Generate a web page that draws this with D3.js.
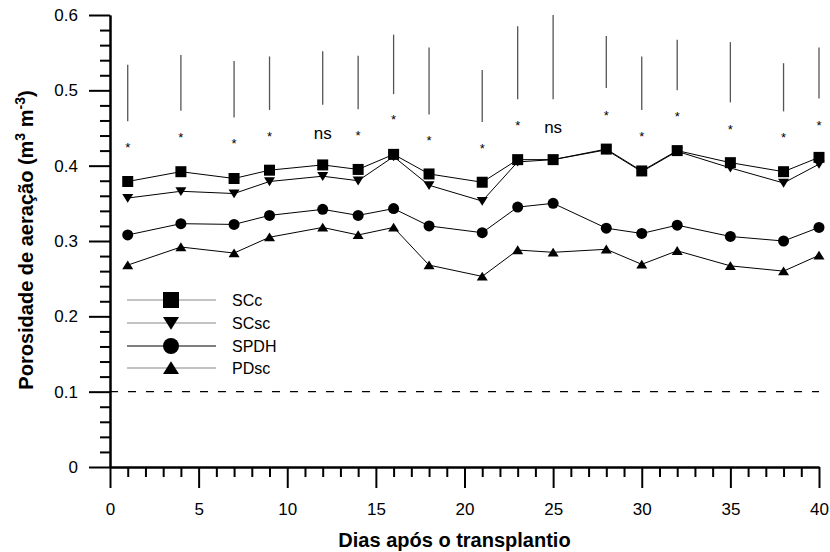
<!DOCTYPE html>
<html>
<head>
<meta charset="utf-8">
<script src="https://cdn.jsdelivr.net/npm/d3@7"></script>
<style>
  body { margin: 0; background: #fff; }
  svg { display: block; font-family: "Liberation Sans", Arial, sans-serif; }
</style>
</head>
<body>
<svg width="830" height="552"></svg>
<script>
const svgWidth = 830;
const svgHeight = 552;

const margin = { top: 15, left: 110, bottom: 85, right: 11 };
const width = svgWidth - (margin.left + margin.right);
const height = svgHeight - (margin.top + margin.bottom);

// days after transplanting
const dias = [1, 4, 7, 9, 12, 14, 16, 18, 21, 23, 25, 28, 30, 32, 35, 38, 40];

const sccValues  = [0.379, 0.392, 0.383, 0.394, 0.401, 0.395, 0.415, 0.389, 0.378, 0.408, 0.408, 0.422, 0.393, 0.420, 0.404, 0.392, 0.411];
const scscValues = [0.357, 0.366, 0.363, 0.379, 0.386, 0.380, 0.412, 0.374, 0.353, 0.405, 0.408, 0.421, 0.392, 0.419, 0.397, 0.377, 0.402];
const spdhValues = [0.308, 0.323, 0.322, 0.334, 0.342, 0.334, 0.343, 0.320, 0.311, 0.345, 0.350, 0.317, 0.310, 0.321, 0.306, 0.300, 0.318];
const pdscValues = [0.268, 0.292, 0.284, 0.305, 0.318, 0.308, 0.318, 0.268, 0.253, 0.288, 0.285, 0.289, 0.269, 0.287, 0.267, 0.260, 0.281];

// vertical bars (low / high) drawn above the points
const barLow  = [0.459, 0.473, 0.464, 0.474, 0.481, 0.475, 0.495, 0.468, 0.458, 0.488, 0.488, 0.503, 0.474, 0.500, 0.484, 0.472, 0.489];
const barHigh = [0.534, 0.547, 0.539, 0.545, 0.552, 0.546, 0.574, 0.557, 0.527, 0.585, 0.600, 0.572, 0.545, 0.567, 0.564, 0.536, 0.557];

// significance marks
const sigLabels = ["*", "*", "*", "*", "ns", "*", "*", "*", "*", "*", "ns", "*", "*", "*", "*", "*", "*"];
const sigY      = [0.427, 0.441, 0.433, 0.442, 0.442, 0.444, 0.464, 0.437, 0.426, 0.456, 0.450, 0.470, 0.442, 0.468, 0.451, 0.441, 0.457];

const seriesNames = ["SCc", "SCsc", "SPDH", "PDsc"];
const seriesShapes = ["square", "down", "circle", "up"];
const legendLineColors = ["#888", "#888", "#000", "#888"];

const xMajorTicks = [0, 5, 10, 15, 20, 25, 30, 35, 40];
const yMajorTicks = [0, 0.1, 0.2, 0.3, 0.4, 0.5, 0.6];
const limite = 0.1;

const series = [sccValues, scscValues, spdhValues, pdscValues];

const xScale = d3.scaleLinear().domain([0, 40]).range([0, width]);
const yScale = d3.scaleLinear().domain([0, 0.6]).range([height, 0]);

const svg = d3.select("svg");
const g = svg.append("g").attr("transform", `translate(${margin.left},${margin.top})`);

// marker path, centred at 0,0
function shapePath(shape, s) {
  const h = s / 2;
  if (shape === "square") return `M${-h},${-h}H${h}V${h}H${-h}Z`;
  if (shape === "circle") return `M${-h},0A${h},${h} 0 1,0 ${h},0A${h},${h} 0 1,0 ${-h},0Z`;
  if (shape === "up") return `M0,${-h * 0.85}L${h},${h * 0.75}L${-h},${h * 0.75}Z`;
  return `M0,${h * 0.85}L${h},${-h * 0.75}L${-h},${-h * 0.75}Z`;
}

// axes
const xMinor = d3.range(0, 41, 1).filter(d => d % 5 !== 0);
const yMinor = d3.range(0, 31, 1).map(d => d / 50).filter((d, i) => i % 5 !== 0);

g.append("g")
  .attr("class", "xAxisMinor")
  .attr("transform", `translate(0,${height})`)
  .call(d3.axisBottom(xScale).tickValues(xMinor).tickSize(10).tickSizeOuter(0).tickFormat(""));

g.append("g")
  .attr("class", "xAxis")
  .attr("transform", `translate(0,${height})`)
  .call(d3.axisBottom(xScale).tickValues(xMajorTicks).tickSize(21).tickSizeOuter(0).tickPadding(15).tickFormat(d => d))
  .selectAll("text")
  .style("font-size", "17px");

g.append("g")
  .attr("class", "yAxisMinor")
  .call(d3.axisLeft(yScale).tickValues(yMinor).tickSize(10).tickSizeOuter(0).tickFormat(""));

g.append("g")
  .attr("class", "yAxis")
  .call(d3.axisLeft(yScale).tickValues(yMajorTicks).tickSize(21).tickSizeOuter(0).tickPadding(11).tickFormat(d => +d.toFixed(1)))
  .selectAll("text")
  .style("font-size", "17px");

g.selectAll(".domain, .tick line").attr("stroke", "#000").attr("stroke-width", 2);
g.selectAll(".tick text").attr("fill", "#000");

// titles
svg.append("text")
  .attr("x", margin.left + width / 2 - 10)
  .attr("y", 547)
  .attr("text-anchor", "middle")
  .style("font-size", "20px")
  .style("font-weight", "bold")
  .text("Dias após o transplantio");

const yTitle = svg.append("text")
  .attr("transform", `translate(33,240) rotate(-90)`)
  .attr("text-anchor", "middle")
  .style("font-size", "20px")
  .style("font-weight", "bold");
yTitle.append("tspan").text("Porosidade de aeração (m");
yTitle.append("tspan").attr("dy", -8).style("font-size", "14px").text("3");
yTitle.append("tspan").attr("dy", 8).text(" m");
yTitle.append("tspan").attr("dy", -8).style("font-size", "14px").text("-3");
yTitle.append("tspan").attr("dy", 8).text(")");

// reference line at 0.1
g.append("line")
  .attr("x1", 0).attr("x2", width)
  .attr("y1", yScale(limite)).attr("y2", yScale(limite))
  .attr("stroke", "#000")
  .attr("stroke-width", 1.2)
  .attr("stroke-dasharray", "8,10");

// vertical bars
g.selectAll(".bar")
  .data(dias)
  .enter()
  .append("line")
  .attr("class", "bar")
  .attr("x1", d => xScale(d)).attr("x2", d => xScale(d))
  .attr("y1", (d, i) => yScale(barLow[i]))
  .attr("y2", (d, i) => yScale(barHigh[i]))
  .attr("stroke", "#555")
  .attr("stroke-width", 1.3);

// significance labels
g.selectAll(".sig")
  .data(dias)
  .enter()
  .append("text")
  .attr("class", "sig")
  .attr("x", d => xScale(d))
  .attr("y", (d, i) => yScale(sigY[i]) + (sigLabels[i] === "*" ? 7 : 5))
  .attr("text-anchor", "middle")
  .style("font-size", (d, i) => sigLabels[i] === "*" ? "13px" : "17px")
  .text((d, i) => sigLabels[i]);

// series lines and markers
const line = d3.line().x((d, i) => xScale(dias[i])).y(d => yScale(d));

series.forEach((vals, k) => {
  g.append("path")
    .datum(vals)
    .attr("fill", "none")
    .attr("stroke", "#000")
    .attr("stroke-width", 1)
    .attr("d", line);
});

series.forEach((vals, k) => {
  g.selectAll(".m" + k)
    .data(vals)
    .enter()
    .append("path")
    .attr("class", "m" + k)
    .attr("transform", (d, i) => `translate(${xScale(dias[i])},${yScale(d)})`)
    .attr("d", shapePath(seriesShapes[k], k === 0 ? 11 : 11))
    .attr("fill", "#000");
});

// legend
const legend = svg.append("g").attr("class", "legend");
const legendRows = [300, 323, 346, 368];
seriesNames.forEach((name, k) => {
  const ly = legendRows[k];
  legend.append("line")
    .attr("x1", 127).attr("x2", 216)
    .attr("y1", ly).attr("y2", ly)
    .attr("stroke", legendLineColors[k])
    .attr("stroke-width", 1.2);
  legend.append("path")
    .attr("transform", `translate(171,${ly})`)
    .attr("d", shapePath(seriesShapes[k], 16))
    .attr("fill", "#000");
  legend.append("text")
    .attr("x", 232)
    .attr("y", ly + 6)
    .style("font-size", "16px")
    .text(name);
});
</script>
</body>
</html>
